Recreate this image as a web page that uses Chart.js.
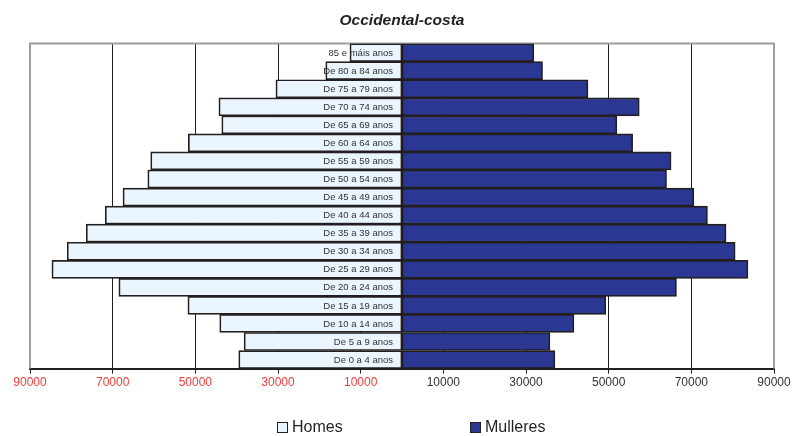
<!DOCTYPE html>
<html>
<head>
<meta charset="utf-8">
<script src="https://cdn.jsdelivr.net/npm/chart.js@4/dist/chart.umd.min.js"></script>
<style>
  html, body { margin: 0; padding: 0; background: #fff; }
  #wrap { position: relative; width: 796px; height: 436px; font-family: "Liberation Sans", Arial, sans-serif; }
  #c { position: absolute; left: 0; top: 0; }
  .leg { position: absolute; top: 418px; height: 18px; display: flex; align-items: center; font-size: 16px; color: #231f20; }
  .leg .box { width: 9px; height: 9px; border: 1px solid #231f20; margin-right: 4px; }
</style>
</head>
<body>
<div id="wrap">
  <canvas id="c" width="796" height="436"></canvas>
  <div class="leg" id="leg0" style="left:277px"><span class="box"></span><span class="txt"></span></div>
  <div class="leg" id="leg1" style="left:470px"><span class="box"></span><span class="txt"></span></div>
</div>
<script>
const title = "Occidental-costa";
const ageGroups = [
  "85 e máis anos", "De 80 a 84 anos", "De 75 a 79 anos", "De 70 a 74 anos",
  "De 65 a 69 anos", "De 60 a 64 anos", "De 55 a 59 anos", "De 50 a 54 anos",
  "De 45 a 49 anos", "De 40 a 44 anos", "De 35 a 39 anos", "De 30 a 34 anos",
  "De 25 a 29 anos", "De 20 a 24 anos", "De 15 a 19 anos", "De 10 a 14 anos",
  "De 5 a 9 anos", "De 0 a 4 anos"
];
const seriesNames = ["Homes", "Mulleres"];
const homes = [12600, 18450, 30500, 44300, 43600, 51700, 60800, 61500, 67500, 71800, 76400, 81000, 84700, 68500, 51800, 44100, 38200, 39500];
const mulleres = [31900, 34000, 45000, 57400, 52000, 55800, 65100, 64000, 70600, 73900, 78400, 80600, 83700, 66400, 49300, 41600, 35800, 37000];
const xTicks = [-90000, -70000, -50000, -30000, -10000, 10000, 30000, 50000, 70000, 90000];

const colors = ["#ebf5fd", "#2b3893"];
const edge = "#231f20";

const plotFrame = {
  id: "plotFrame",
  beforeDatasetsDraw(chart) {
    const a = chart.chartArea, ctx = chart.ctx;
    ctx.save();
    ctx.strokeStyle = "#9d9d9f";
    ctx.lineWidth = 2;
    ctx.beginPath();
    ctx.moveTo(a.left, a.bottom);
    ctx.lineTo(a.left, a.top);
    ctx.lineTo(a.right, a.top);
    ctx.lineTo(a.right, a.bottom);
    ctx.stroke();
    ctx.restore();
  }
};

const centerLabels = {
  id: "centerLabels",
  afterDatasetsDraw(chart) {
    const ys = chart.scales.y, xs = chart.scales.x, ctx = chart.ctx;
    const x0 = xs.getPixelForValue(0) - 9;
    ctx.save();
    ctx.font = "9.5px 'Liberation Sans', Arial, sans-serif";
    ctx.fillStyle = "#333333";
    ctx.textAlign = "right";
    ctx.textBaseline = "middle";
    ys.ticks.forEach((t, i) => {
      ctx.fillText(ys.getLabelForValue(t.value), x0, ys.getPixelForTick(i) + 0.5);
    });
    ctx.restore();
  }
};

new Chart(document.getElementById("c"), {
  type: "bar",
  data: {
    labels: ageGroups,
    datasets: [
      { label: seriesNames[0], data: homes.map(v => -v), backgroundColor: colors[0], borderColor: edge, borderWidth: 1.7, borderSkipped: false, barPercentage: 1, categoryPercentage: 1 },
      { label: seriesNames[1], data: mulleres, backgroundColor: colors[1], borderColor: edge, borderWidth: 1.7, borderSkipped: false, barPercentage: 1, categoryPercentage: 1 }
    ]
  },
  options: {
    indexAxis: "y",
    responsive: false,
    animation: false,
    layout: { padding: { left: 30, right: 22, top: 10, bottom: 44 } },
    scales: {
      x: {
        stacked: true,
        min: -90000, max: 90000,
        afterBuildTicks(scale) { scale.ticks = xTicks.map(v => ({ value: v })); },
        grid: {
          color: c => (c.tick && Math.abs(c.tick.value) === 90000) ? "rgba(0,0,0,0)" : edge,
          tickColor: edge,
          lineWidth: 1,
          tickLength: 5,
          drawTicks: true
        },
        border: { display: true, color: edge, width: 2 },
        ticks: {
          autoSkip: false,
          maxRotation: 0,
          padding: 2,
          font: { family: "'Liberation Sans', Arial, sans-serif", size: 12 },
          color: c => c.tick.value < 0 ? "#ee3b3b" : "#333333",
          callback: v => String(Math.abs(v))
        }
      },
      y: {
        stacked: true,
        display: false
      }
    },
    plugins: {
      legend: { display: false },
      tooltip: { enabled: false },
      title: {
        display: true,
        text: title,
        color: "#231f20",
        font: { family: "'Liberation Sans', Arial, sans-serif", size: 15.5, weight: "bold", style: "italic" },
        padding: { top: 1, bottom: 14 }
      }
    }
  },
  plugins: [plotFrame, centerLabels]
});

[0, 1].forEach(i => {
  const el = document.getElementById("leg" + i);
  el.querySelector(".box").style.background = colors[i];
  el.querySelector(".txt").textContent = seriesNames[i];
});
</script>
</body>
</html>
